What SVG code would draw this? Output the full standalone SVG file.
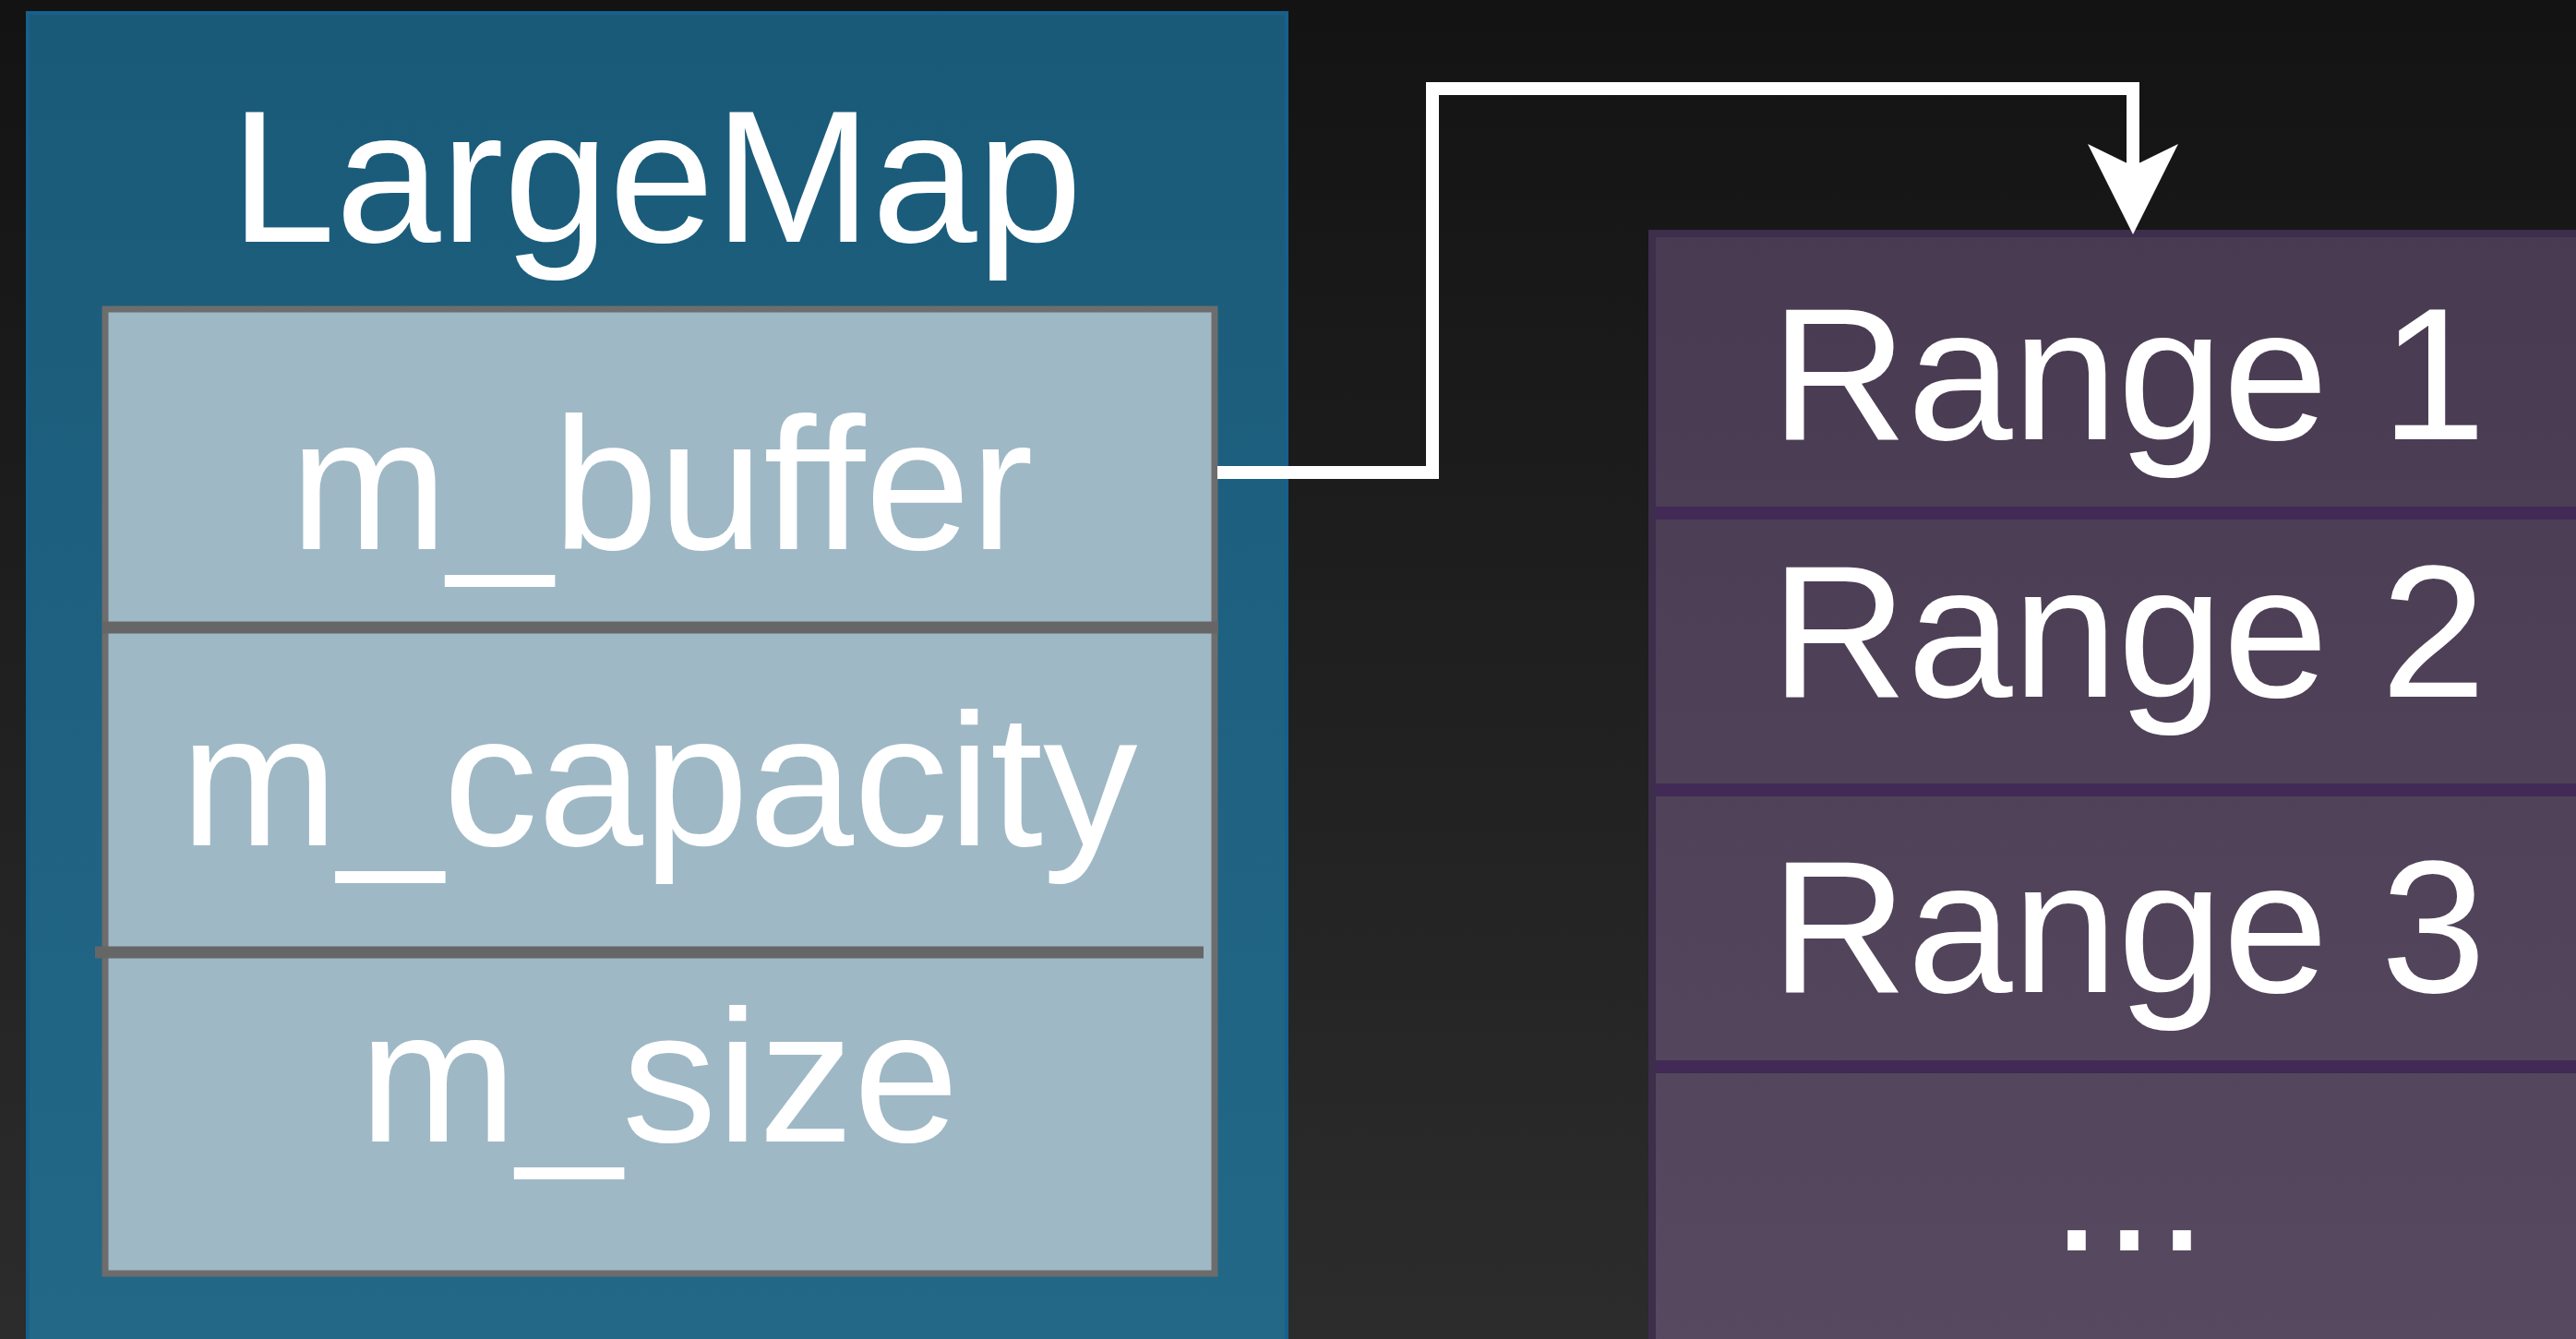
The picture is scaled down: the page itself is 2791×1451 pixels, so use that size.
<svg xmlns="http://www.w3.org/2000/svg" width="2791" height="1451" viewBox="0 0 2791 1451">
<defs>
<linearGradient id="bg" x1="0" y1="0" x2="0" y2="1"><stop offset="0" stop-color="#131313"/><stop offset="1" stop-color="#2c2c2c"/></linearGradient>
<linearGradient id="blue" x1="0" y1="0" x2="0" y2="1"><stop offset="0" stop-color="#1a5a79"/><stop offset="1" stop-color="#236887"/></linearGradient>
<linearGradient id="purple" x1="0" y1="0" x2="0" y2="1"><stop offset="0" stop-color="#483a50"/><stop offset="1" stop-color="#574a60"/></linearGradient>
<style>
.t{font-family:"Liberation Sans",Arial,Helvetica,sans-serif;font-size:205px;fill:#ffffff;text-anchor:middle}
.field{fill:#9fb8c5;stroke:#6d6d6d;stroke-width:7}
.fdiv{stroke:#666666;stroke-width:13}
.rdiv{stroke:#412a55;stroke-width:14}
.conn{fill:none;stroke:#ffffff;stroke-width:14}
</style>
</defs>
<rect width="2791" height="1451" fill="url(#bg)"/>
<g id="largemap">
<rect x="30" y="14" width="1364" height="1450" fill="url(#blue)" stroke="#17608c" stroke-width="4"/>
<text class="t" x="711" y="262">LargeMap</text>
<rect class="field" x="114" y="335" width="1202" height="1045"/>
<line class="fdiv" x1="111" y1="680" x2="1320" y2="680"/>
<line class="fdiv" x1="103" y1="1032" x2="1304" y2="1032"/>
<text class="t" x="717" y="595">m_buffer</text>
<text class="t" x="714" y="916">m_capacity</text>
<text class="t" x="714" y="1237">m_size</text>
</g>
<g id="ranges">
<rect x="1790" y="253" width="1010" height="1210" fill="url(#purple)" stroke="#3d2e4b" stroke-width="8"/>
<line class="rdiv" x1="1794" y1="556" x2="2800" y2="556"/>
<line class="rdiv" x1="1794" y1="856" x2="2800" y2="856"/>
<line class="rdiv" x1="1794" y1="1156" x2="2800" y2="1156"/>
<text class="t" x="2306" y="476">Range 1</text>
<text class="t" x="2306" y="755">Range 2</text>
<text class="t" x="2306" y="1075">Range 3</text>
<text class="t" x="2307" y="1355">...</text>
</g>
<g id="connectors">
<path class="conn" d="M1319,512 H1552 V96 H2311 V190"/>
<polygon points="2262,156 2311,180 2360,156 2311,254" fill="#ffffff"/>
</g>
</svg>
